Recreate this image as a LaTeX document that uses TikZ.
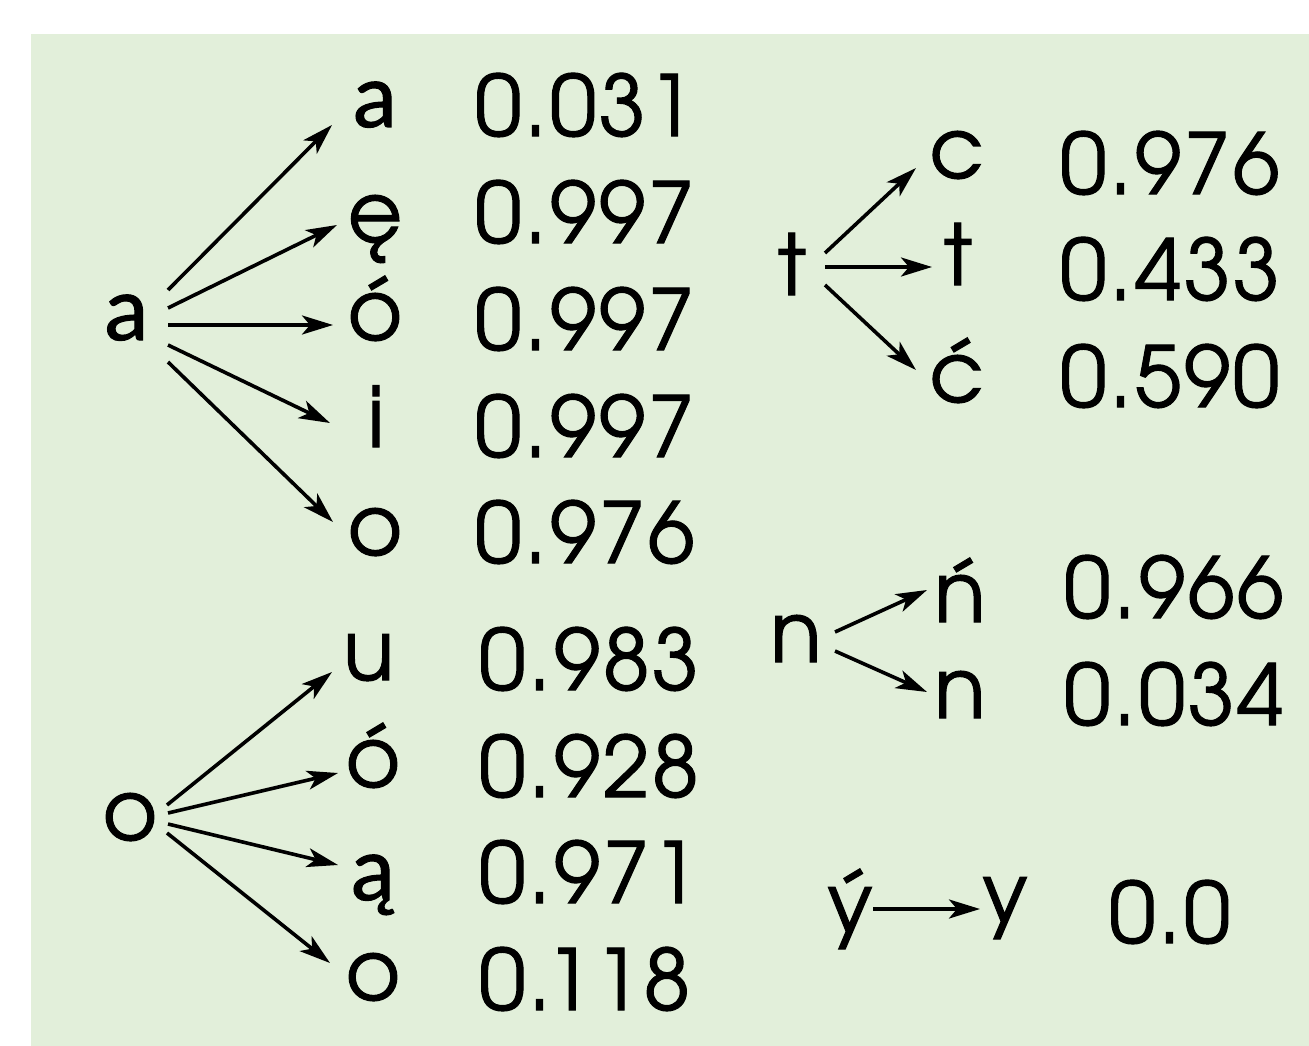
\documentclass[tikz,border=0pt]{standalone}
\usepackage{fontspec}
\setmainfont{TeX Gyre Adventor}[FakeBold=1.2]
\newfontfamily\numfont{TeX Gyre Adventor}[FakeBold=1.2,LetterSpace=3]
\newfontfamily\storyfont{Lato}[FakeBold=1.2]
\usetikzlibrary{arrows.meta,calc}
\definecolor{panel}{RGB}{226,239,218}
\newcommand{\twostory}[1]{{\storyfont\fontsize{88}{100}\selectfont #1}}
\begin{document}
\begin{tikzpicture}[x=1pt,y=-1pt,
  every node/.style={inner sep=0pt,outer sep=0pt,font=\fontsize{84}{96}\selectfont},
  letter/.style={anchor=base},
  prob/.style={anchor=base west,font=\numfont\fontsize{84}{96}\selectfont},
  arr/.style={line width=3.6pt,-{Stealth[length=31pt,width=19pt,inset=8pt]}}]
\useasboundingbox (0,0) rectangle (1309,1046);
\fill[panel] (31,34) rectangle (1309,1046);

% group a
\node[letter] (sa) at (126.5,340) {\twostory{a}};
\node[letter] (a1) at (375,127) {\twostory{a}};
\node[letter] (a2) at (375,242) {ę};
\node[letter] (a3) at (375,340) {ó};
\node[letter] (a4) at (376,447) {i};
\node[letter] (a5) at (375,555) {o};
\node[prob] (pa1) at (475,136) {0.031};
\node[prob] (pa2) at (475,243) {0.997};
\node[prob] (pa3) at (475,350) {0.997};
\node[prob] (pa4) at (475,457) {0.997};
\node[prob] (pa5) at (475,563) {0.976};
\draw[arr] ($(sa.base)+(41.5,-50)$) -- ($(a1.base)+(-43,-2)$);
\draw[arr] ($(sa.base)+(41.5,-32)$) -- ($(a2.base)+(-38,-17)$);
\draw[arr] ($(sa.base)+(41.5,-15)$) -- ($(a3.base)+(-42,-15)$);
\draw[arr] ($(sa.base)+(41.5,5)$) -- ($(a4.base)+(-46,-24)$);
\draw[arr] ($(sa.base)+(41.5,22)$) -- ($(a5.base)+(-42,-33)$);

% group o
\node[letter] (so) at (130,840) {o};
\node[letter] (o1) at (368.5,680) {u};
\node[letter] (o2) at (373,787) {ó};
\node[letter] (o3) at (373,900) {\twostory{ą}};
\node[letter] (o4) at (373,1000) {o};
\node[prob] (po1) at (479,690) {0.983};
\node[prob] (po2) at (479,797) {0.928};
\node[prob] (po3) at (479,903) {0.971};
\node[prob] (po4) at (479,1010) {0.118};
\draw[arr] ($(so.base)+(37,-35)$) -- ($(o1.base)+(-36.5,-8)$);
\draw[arr] ($(so.base)+(38,-27)$) -- ($(o2.base)+(-35,-14)$);
\draw[arr] ($(so.base)+(38,-16)$) -- ($(o3.base)+(-35,-35)$);
\draw[arr] ($(so.base)+(37,-7)$) -- ($(o4.base)+(-43,-37)$);

% group t
\node[letter] (st) at (792,295) {t};
\node[letter] (t1) at (956.5,178) {c};
\node[letter] (t2) at (958,285) {t};
\node[letter] (t3) at (956.5,402) {ć};
\node[prob] (pt1) at (1060,194) {0.976};
\node[prob] (pt2) at (1060,300) {0.433};
\node[prob] (pt3) at (1060,407) {0.590};
\draw[arr] ($(st.base)+(33,-42)$) -- ($(t1.base)+(-40.5,-10)$);
\draw[arr] ($(st.base)+(33,-28)$) -- ($(t2.base)+(-26,-18)$);
\draw[arr] ($(st.base)+(33,-10)$) -- ($(t3.base)+(-40.5,-32)$);

% group n
\node[letter] (sn) at (796,662) {n};
\node[letter] (n1) at (960,622) {ń};
\node[letter] (n2) at (960,718) {n};
\node[prob] (pn1) at (1064,618) {0.966};
\node[prob] (pn2) at (1064,725) {0.034};
\draw[arr] ($(sn.base)+(39,-30)$) -- ($(n1.base)+(-33,-32)$);
\draw[arr] ($(sn.base)+(39,-11)$) -- ($(n2.base)+(-33,-26)$);

% group y
\node[letter] (sy) at (850,933) {ý};
\node[letter] (y1) at (1005,923) {y};
\node[prob] (py1) at (1109,943) {0.0};
\draw[arr] ($(sy.base)+(23,-24)$) -- ($(y1.base)+(-25,-14)$);
\end{tikzpicture}
\end{document}
